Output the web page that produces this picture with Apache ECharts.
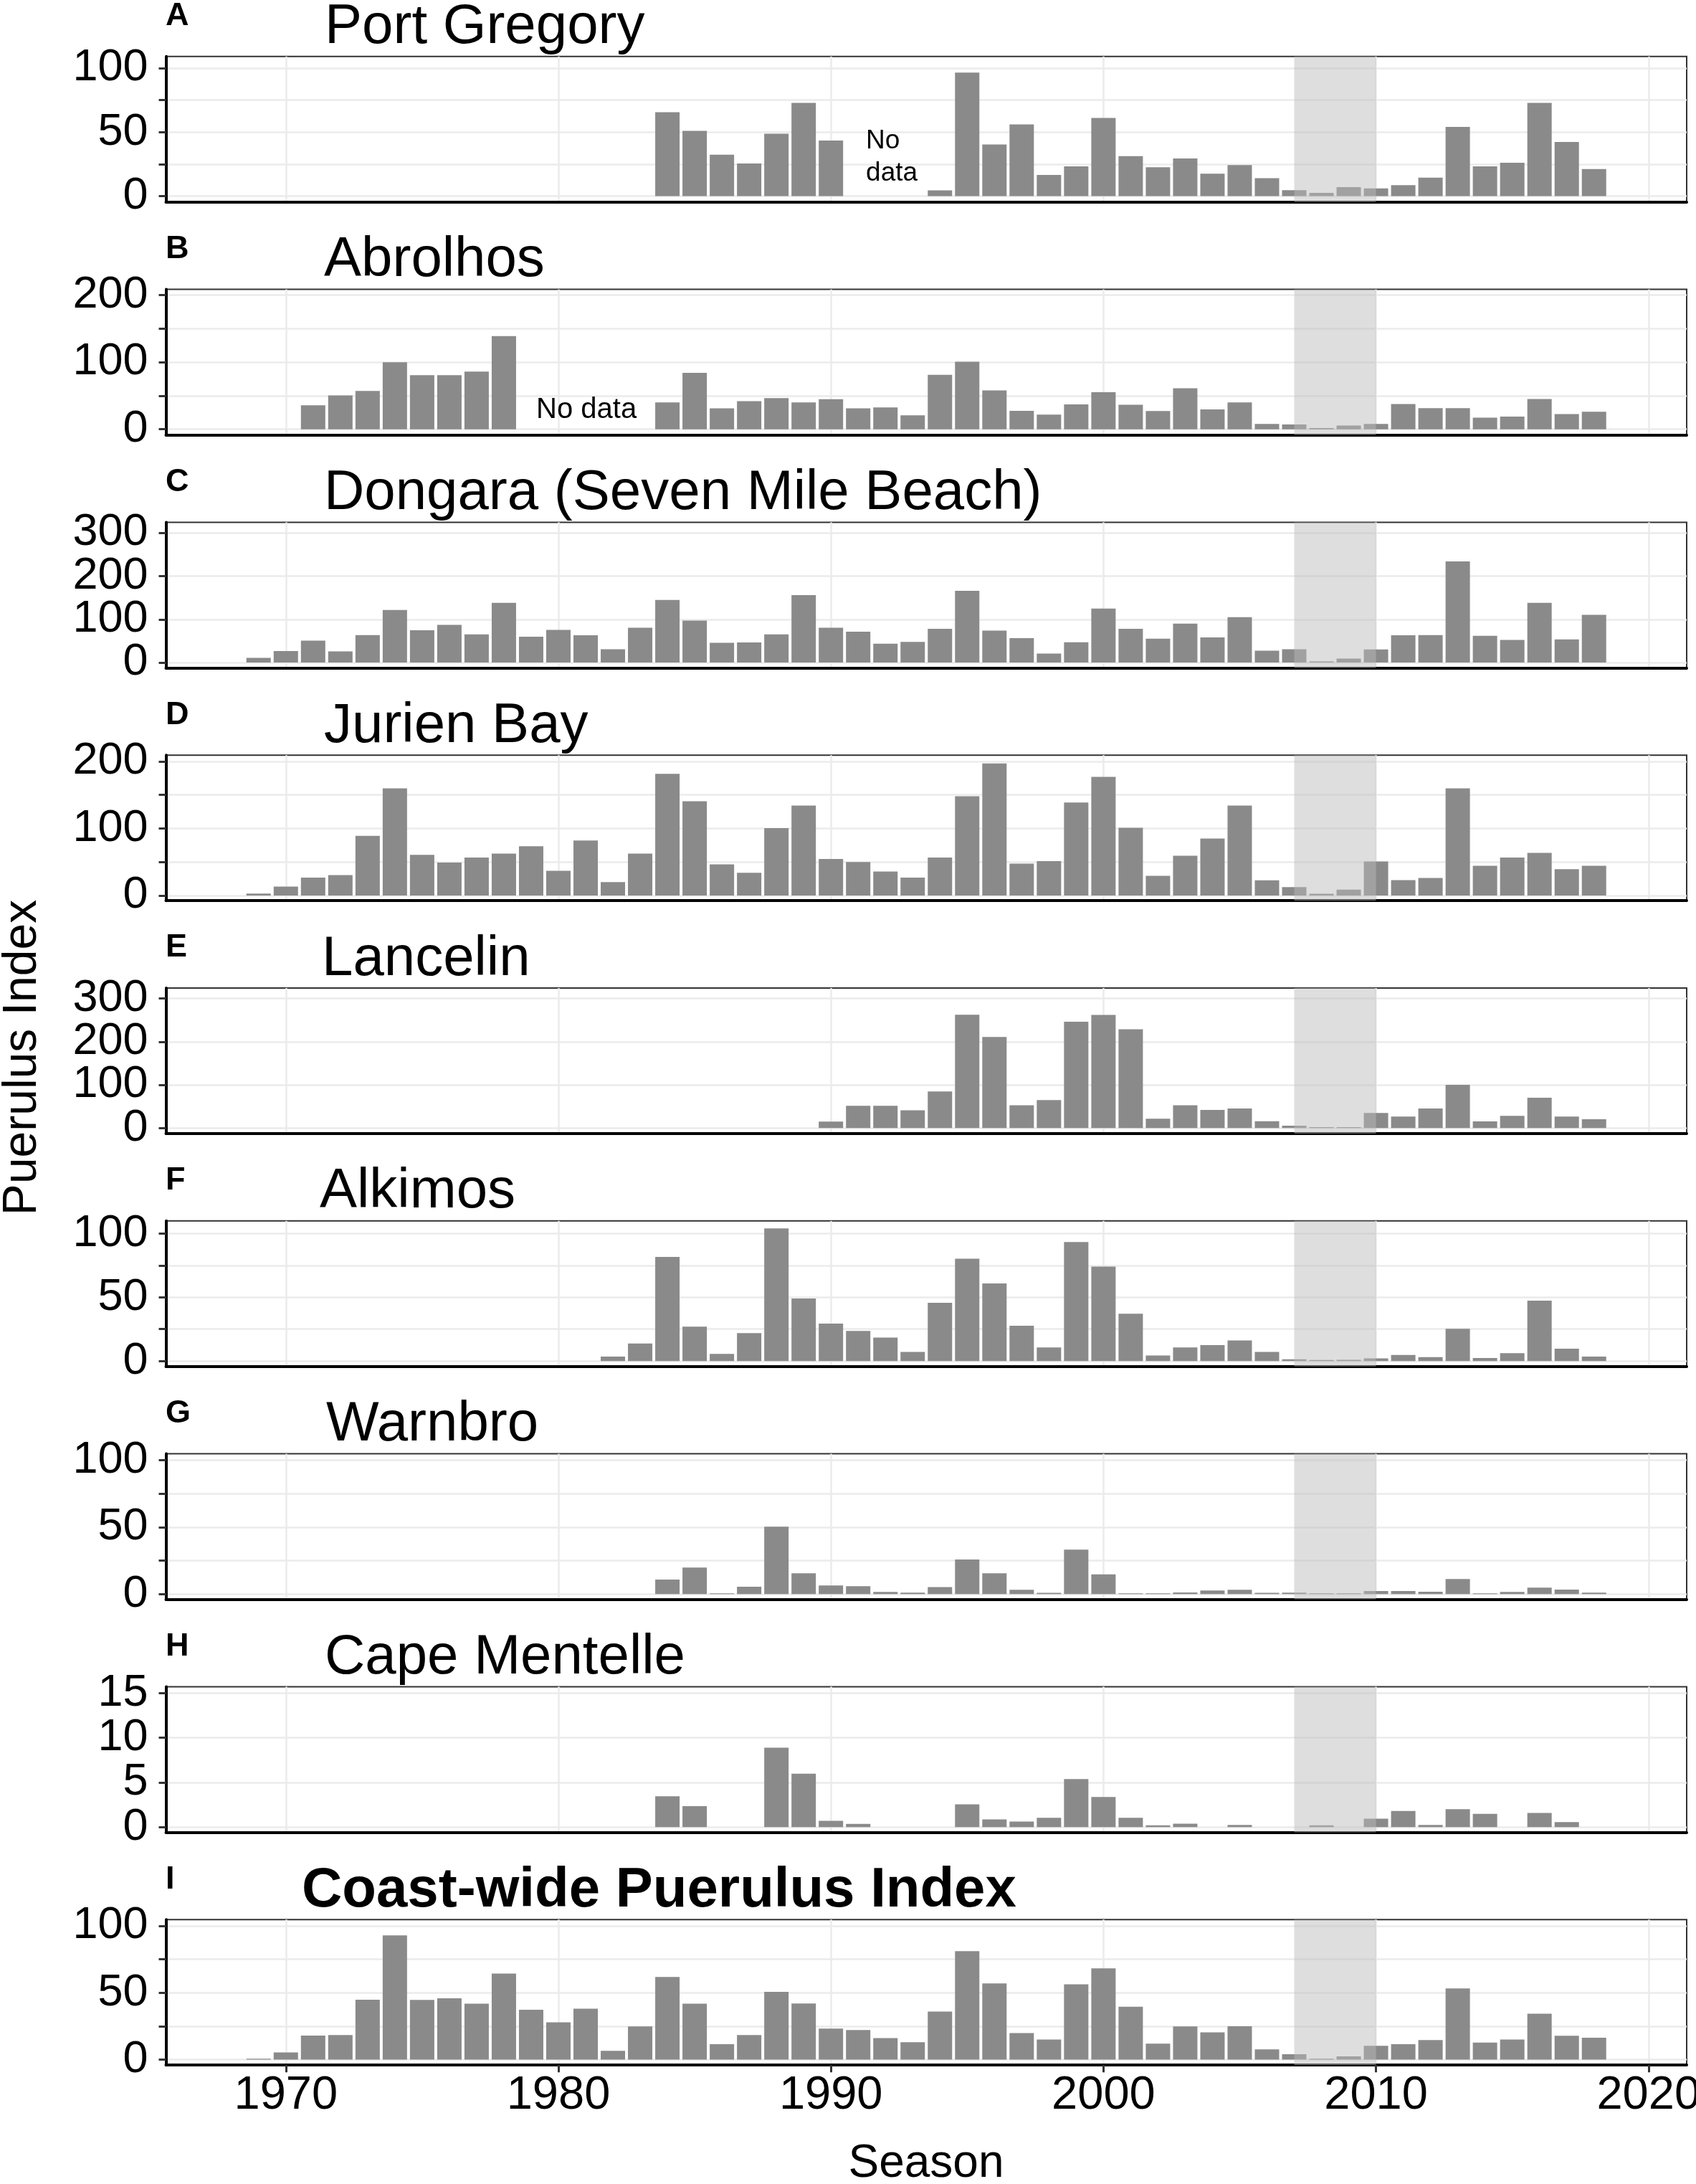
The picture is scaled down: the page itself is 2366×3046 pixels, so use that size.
<!DOCTYPE html>
<html>
<head>
<meta charset="utf-8">
<title>Puerulus Index</title>
<script src="https://cdn.jsdelivr.net/npm/echarts@6/dist/echarts.min.js"></script>
<style>
  html, body { margin: 0; padding: 0; background: #fff; }
  #chart { width: 2366px; height: 3046px; }
</style>
</head>
<body>
<div id="chart"></div>
<script>
// seasons 1969 .. 2018, null = no data
const seasons = [
  1969, 1970, 1971, 1972, 1973, 1974, 1975, 1976, 1977, 1978,
  1979, 1980, 1981, 1982, 1983, 1984, 1985, 1986, 1987, 1988,
  1989, 1990, 1991, 1992, 1993, 1994, 1995, 1996, 1997, 1998,
  1999, 2000, 2001, 2002, 2003, 2004, 2005, 2006, 2007, 2008,
  2009, 2010, 2011, 2012, 2013, 2014, 2015, 2016, 2017, 2018
]

const portGregory = [
  null, null, null, null, null, null, null, null, null, null,
  null, null, null, null, null, 65.5, 51, 32.4, 25.5, 48.7,
  72.8, 43.4, null, null, null, 4.5, 96.4, 40.4, 56, 16.5,
  23.2, 61, 31.3, 22.5, 29.4, 17.6, 24.3, 14, 4.7, 2.6,
  7.1, 6, 8.6, 14.4, 54, 23.2, 26, 72.8, 42.3, 21.2
]
const abrolhos = [
  null, null, 35.7, 50.4, 57, 99.6, 80.4, 80.4, 85.7, 138.6,
  null, null, null, null, null, 40, 84, 31, 41.8, 46.4,
  40, 44.6, 31, 32.5, 20.7, 81, 100.4, 57.9, 27.5, 21.8,
  37.1, 55, 36.4, 27.1, 61, 29.6, 40, 7.9, 7.1, 1.8,
  5.4, 7.9, 37.5, 31.4, 31.4, 17.1, 18.9, 45, 22.5, 26
]
const dongara = [
  11, 26.5, 50.8, 26, 63.5, 121.5, 74.6, 87.3, 65.2, 138,
  59.7, 75.7, 63, 31, 80.7, 144.8, 97.2, 45.9, 46.4, 65.2,
  155.8, 80.7, 71.3, 43.6, 48, 77.9, 166, 74, 56.4, 21,
  47, 125, 77.9, 55.2, 90, 58, 105, 27.6, 31, 2.8,
  9.4, 30.4, 63, 63.5, 234, 61.9, 52.5, 138, 53.6, 110.5
]
const jurienBay = [
  2.9, 13.2, 26.7, 30.3, 89, 159.7, 60.6, 49.2, 56.7, 62.4,
  73.4, 36.7, 82, 20, 62.4, 181.5, 140.5, 46.3, 33.9, 100.5,
  134, 54.5, 49.9, 35.7, 26.7, 56.7, 148, 197, 47.4, 51.3,
  138.7, 177, 101, 29.2, 59.2, 85, 134, 22.5, 12.5, 2.5,
  8.6, 50.6, 22.8, 26, 159.7, 44.2, 56.7, 63.5, 39.2, 44.2
]
const lancelin = [
  null, null, null, null, null, null, null, null, null, null,
  null, null, null, null, null, null, null, null, null, null,
  null, 15, 51.5, 51.5, 41, 84.7, 262.5, 211, 53, 64.8,
  246.4, 262, 229, 21.6, 53, 42, 45.4, 16, 5.5, 2.2,
  2.2, 35, 26.6, 45.4, 100, 15.5, 28.2, 70.3, 26.6, 20.5
]
const alkimos = [
  null, null, null, null, null, null, null, null, null, null,
  null, null, null, 3.4, 13.7, 81.6, 27, 5.6, 21.9, 104,
  49, 29.3, 23.6, 18.4, 7.1, 45.6, 80.3, 60.8, 27.6, 10.7,
  93.4, 74.1, 37.1, 4.3, 10.7, 12.4, 16.1, 7.1, 1.3, 0.8,
  0.9, 2.1, 4.7, 3, 25.3, 2.3, 6.2, 47.3, 9.6, 3.4
]
const warnbro = [
  null, null, null, null, null, null, null, null, null, null,
  null, null, null, null, null, 10.9, 19.8, 0.5, 5.5, 50.3,
  15.5, 6.4, 5.9, 1.6, 1.1, 5.2, 25.8, 15.5, 3.2, 0.9,
  33.2, 14.8, 0.5, 0.5, 1.2, 2.7, 3.2, 0.9, 1.1, 0.5,
  0.5, 2.3, 2.3, 1.8, 11.2, 0.5, 1.6, 4.8, 3.4, 1.1
]
const capeMentelle = [
  null, null, null, null, null, null, null, null, null, null,
  null, null, null, null, null, 3.45, 2.33, 0, 0, 8.88,
  5.96, 0.7, 0.35, 0, 0, 0, 2.54, 0.86, 0.61, 1.04,
  5.37, 3.37, 1.04, 0.19, 0.37, 0, 0.24, 0, 0, 0.19,
  0, 0.94, 1.79, 0.24, 2.0, 1.47, 0, 1.58, 0.56, 0
]
const coastWide = [
  0.7, 5.4, 18, 18.4, 44.8, 92.9, 44.6, 45.9, 41.8, 64.3,
  37.3, 27.9, 38, 6.6, 24.8, 61.8, 41.8, 11.6, 18.4, 50.7,
  42, 23.2, 22.1, 16.1, 13, 35.9, 81, 57, 19.8, 15,
  56.3, 68.2, 39.6, 12, 24.8, 20.4, 25, 7.7, 4.1, 0.7,
  2.5, 10.4, 11.6, 14.6, 53.2, 12.7, 15, 34.3, 17.9, 16.3
]

const panelValues = [portGregory, abrolhos, dongara, jurienBay, lancelin, alkimos, warnbro, capeMentelle, coastWide]
const panelNames = [
  'Port Gregory', 'Abrolhos', 'Dongara (Seven Mile Beach)', 'Jurien Bay', 'Lancelin',
  'Alkimos', 'Warnbro', 'Cape Mentelle', 'Coast-wide Puerulus Index'
]
const panelLetters = ['A', 'B', 'C', 'D', 'E', 'F', 'G', 'H', 'I']

// y tick labels and grid/tick values per panel
const yLabelValues = [
  [0, 50, 100], [0, 100, 200], [0, 100, 200, 300], [0, 100, 200], [0, 100, 200, 300],
  [0, 50, 100], [0, 50, 100], [0, 5, 10, 15], [0, 50, 100]
]
const yTickValues = [
  [0, 25, 50, 75, 100], [0, 50, 100, 150, 200], [0, 100, 200, 300], [0, 50, 100, 150, 200], [0, 100, 200, 300],
  [0, 25, 50, 75, 100], [0, 25, 50, 75, 100], [0, 5, 10, 15], [0, 25, 50, 75, 100]
]
const decadeTicks = [1970, 1980, 1990, 2000, 2010, 2020]
const closurePeriod = [2007, 2010]

// "No data" notes
const noDataNotes = [
  {panel: 0, coord: [1991.3, 30.3], text: 'No\ndata', size: 37, lineHeight: 45},
  {panel: 1, coord: [1979.2, 28], text: 'No data', size: 40, lineHeight: 44}
]

// axis extents (ggplot expansion)
const yExtents = [
  [-4.6, 109], [-8.5, 208.2], [-12.1, 324.4], [-7.8, 209.3], [-12.8, 324.4],
  [-4.3, 109.9], [-3.9, 104.65], [-0.58, 15.7], [-4.1, 104.66]
]
const xExtent = [1965.6, 2021.4]

const FONT = '"Liberation Sans", Arial, Helvetica, sans-serif'
const GRID_LEFT = 231.5
const GRID_RIGHT = 13
const GRID_H = 203
const panelTop = (i) => 78.8 + 324.8 * i
const lastPanel = panelNames.length - 1
const nPanels = panelNames.length

const titleX = [453, 452, 452, 452, 449, 446, 455, 453, 421]

const grids = panelNames.map((_, i) => ({
  left: GRID_LEFT,
  right: GRID_RIGHT,
  top: panelTop(i),
  height: GRID_H,
  show: true,
  backgroundColor: '#fff',
  borderColor: '#333',
  borderWidth: 2,
  outerBoundsMode: 'none',
  containLabel: false
}))

const xAxes = panelNames.map((_, i) => {
  const isLast = i === lastPanel
  return {
    type: 'value',
    gridIndex: i,
    min: xExtent[0],
    max: xExtent[1],
    axisLine: {show: true, onZero: false, lineStyle: {color: '#000', width: 4}},
    axisTick: {show: isLast, customValues: decadeTicks, length: 10, lineStyle: {color: '#333', width: 3}},
    axisLabel: {
      show: isLast, customValues: decadeTicks, formatter: v => String(v),
      fontSize: 65, fontFamily: FONT, color: '#000', margin: 10,
      showMinLabel: true, showMaxLabel: true
    },
    splitLine: {show: true, lineStyle: {color: '#ebebeb', width: 2.5}}
  }
})

const yLabelStyle = {
  formatter: v => String(v),
  fontSize: 63, fontFamily: FONT, color: '#000', margin: 25,
  showMinLabel: true, showMaxLabel: true, hideOverlap: false
}

// main y axes carry every other label; a twin axis on the same grid carries the rest,
// so ECharts does not drop labels that sit close together
const yAxes = panelNames.map((_, i) => ({
  type: 'value',
  gridIndex: i,
  min: yExtents[i][0],
  max: yExtents[i][1],
  axisLine: {show: true, onZero: false, lineStyle: {color: '#000', width: 4}},
  axisTick: {show: true, customValues: yTickValues[i], length: 10, lineStyle: {color: '#333', width: 3}},
  axisLabel: {...yLabelStyle, customValues: yLabelValues[i].filter((_, k) => k % 2 === 0)},
  splitLine: {show: true, lineStyle: {color: '#ebebeb', width: 2.5}}
}))
const yTwins = panelNames.map((_, i) => ({
  type: 'value',
  gridIndex: i,
  position: 'left',
  offset: 0,
  min: yExtents[i][0],
  max: yExtents[i][1],
  axisLine: {show: false},
  axisTick: {show: false, customValues: yLabelValues[i].filter((_, k) => k % 2 === 1)},
  axisLabel: {...yLabelStyle, customValues: yLabelValues[i].filter((_, k) => k % 2 === 1)},
  splitLine: {show: false}
}))

const series = panelValues.map((values, i) => {
  const notes = noDataNotes.filter(n => n.panel === i)
  return {
    type: 'bar',
    name: panelNames[i],
    xAxisIndex: i,
    yAxisIndex: i,
    data: seasons.map((s, k) => [s, values[k]]).filter(d => d[1] !== null),
    barWidth: 34,
    silent: true,
    itemStyle: {color: '#8a8a8a'},
    markArea: {
      silent: true,
      z: 10,
      itemStyle: {color: 'rgba(185,185,185,0.48)'},
      data: [[{xAxis: closurePeriod[0]}, {xAxis: closurePeriod[1]}]]
    },
    markPoint: notes.length ? {
      silent: true,
      symbol: 'circle',
      symbolSize: 1,
      itemStyle: {color: 'rgba(0,0,0,0)'},
      data: notes.map(n => ({
        coord: n.coord,
        label: {
          show: true,
          formatter: n.text,
          position: [0, 0],
          align: 'left',
          verticalAlign: 'middle',
          fontSize: n.size,
          lineHeight: n.lineHeight,
          fontFamily: FONT,
          color: '#000'
        }
      }))
    } : undefined
  }
})

const texts = []
panelNames.forEach((name, i) => {
  const top = panelTop(i)
  texts.push({
    type: 'text', x: 231, y: top - 56,
    style: {text: panelLetters[i], font: `bold 45px ${FONT}`, fill: '#000', textAlign: 'left', textVerticalAlign: 'middle'}
  })
  texts.push({
    type: 'text', x: titleX[i], y: top - 40,
    style: {
      text: name,
      font: `${i === lastPanel ? 'bold ' : ''}78px ${FONT}`,
      fill: '#000', textAlign: 'left', textVerticalAlign: 'middle'
    }
  })
})
texts.push({
  type: 'text', x: 32, y: 1475, rotation: Math.PI / 2,
  style: {text: 'Puerulus Index', font: `66px ${FONT}`, fill: '#000', textAlign: 'center', textVerticalAlign: 'middle'}
})
texts.push({
  type: 'text', x: 1292, y: 3018,
  style: {text: 'Season', font: `64px ${FONT}`, fill: '#000', textAlign: 'center', textVerticalAlign: 'middle'}
})

const option = {
  animation: false,
  backgroundColor: '#fff',
  grid: grids,
  xAxis: xAxes,
  yAxis: yAxes.concat(yTwins),
  series,
  graphic: texts
}

const chart = echarts.init(document.getElementById('chart'), null, {renderer: 'canvas'})
chart.setOption(option)
</script>
</body>
</html>
